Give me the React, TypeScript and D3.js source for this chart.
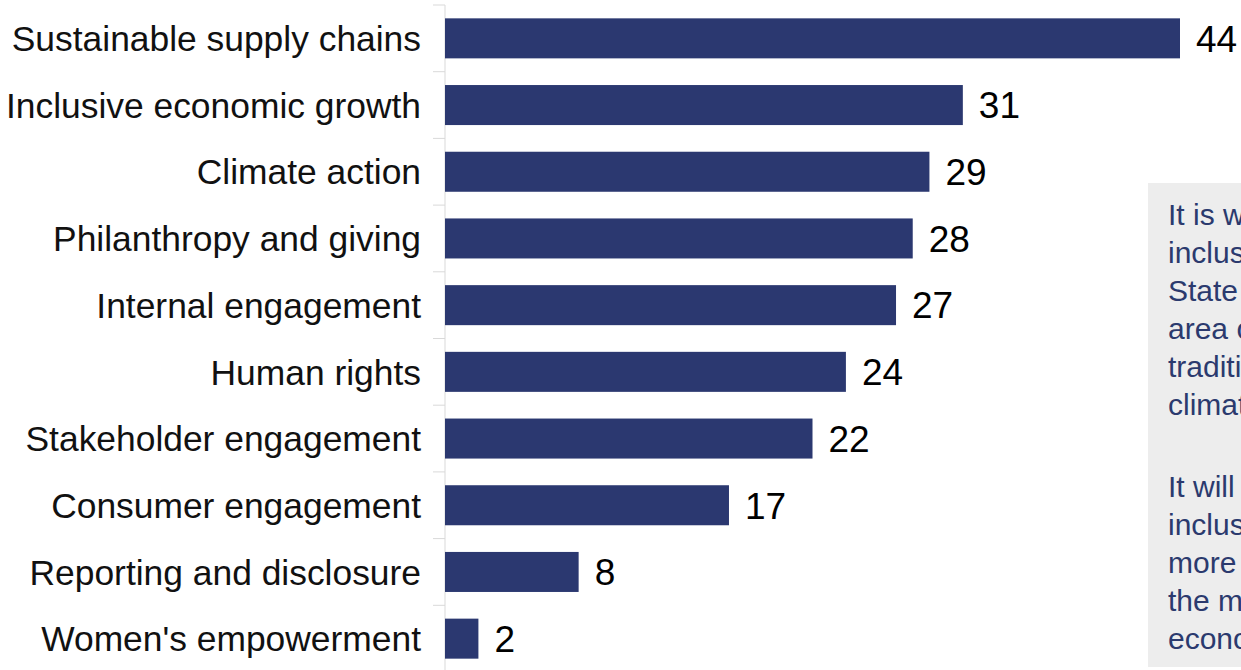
import React, { useEffect } from "react";
import * as d3 from "d3";

const categories = [
  "Sustainable supply chains",
  "Inclusive economic growth",
  "Climate action",
  "Philanthropy and giving",
  "Internal engagement",
  "Human rights",
  "Stakeholder engagement",
  "Consumer engagement",
  "Reporting and disclosure",
  "Women's empowerment",
];
const values = [44, 31, 29, 28, 27, 24, 22, 17, 8, 2];

const para1 = ["It is worth", "inclusive", "State", "area of", "traditional", "climate"];
const para2 = ["It will", "inclusive", "more", "the most", "economic"];

const W = 1241;
const H = 670;

export default function App() {
  useEffect(() => {
    document.body.style.margin = "0";
  }, []);

  const axisX = 445;
  const y = d3
    .scaleBand<string>()
    .domain(categories)
    .range([5, 5 + 66.7 * categories.length])
    .paddingInner(0.4)
    .paddingOuter(0.2);
  const x = d3.scaleLinear().domain([0, 44]).range([axisX, 1180]);
  const step = y.step();

  const labelFont = "'Liberation Sans', Arial, sans-serif";

  return (
    <svg width={W} height={H} style={{ display: "block" }}>
      <rect x={0} y={0} width={W} height={H} fill="#ffffff" />
      <line x1={axisX} x2={axisX} y1={5} y2={H} stroke="#d9d9d9" strokeWidth={1} />
      {d3.range(categories.length + 1).map((i) => (
        <line
          key={"t" + i}
          x1={433}
          x2={axisX}
          y1={5 + i * step}
          y2={5 + i * step}
          stroke="#d9d9d9"
          strokeWidth={1}
        />
      ))}
      {categories.map((c, i) => {
        const yy = y(c)!;
        const bw = y.bandwidth();
        return (
          <g key={c}>
            <rect
              x={x(0)}
              y={yy}
              width={x(values[i]) - x(0)}
              height={bw}
              fill="#2b3870"
            />
            <text
              x={421}
              y={yy + bw / 2}
              dy="0.36em"
              textAnchor="end"
              fontFamily={labelFont}
              fontSize={35.4}
              fill="#111"
            >
              {c}
            </text>
            <text
              x={x(values[i]) + 16}
              y={yy + bw / 2}
              dy="0.36em"
              fontFamily={labelFont}
              fontSize={37}
              fill="#000"
            >
              {values[i]}
            </text>
          </g>
        );
      })}
      <rect x={1148} y={183} width={120} height={484} fill="#ededed" />
      {para1.map((t, i) => (
        <text
          key={"p1" + i}
          x={1168}
          y={225 + i * 38}
          fontFamily={labelFont}
          fontSize={30}
          fill="#2b3a6e"
        >
          {t}
        </text>
      ))}
      {para2.map((t, i) => (
        <text
          key={"p2" + i}
          x={1168}
          y={497 + i * 38}
          fontFamily={labelFont}
          fontSize={30}
          fill="#2b3a6e"
        >
          {t}
        </text>
      ))}
    </svg>
  );
}
